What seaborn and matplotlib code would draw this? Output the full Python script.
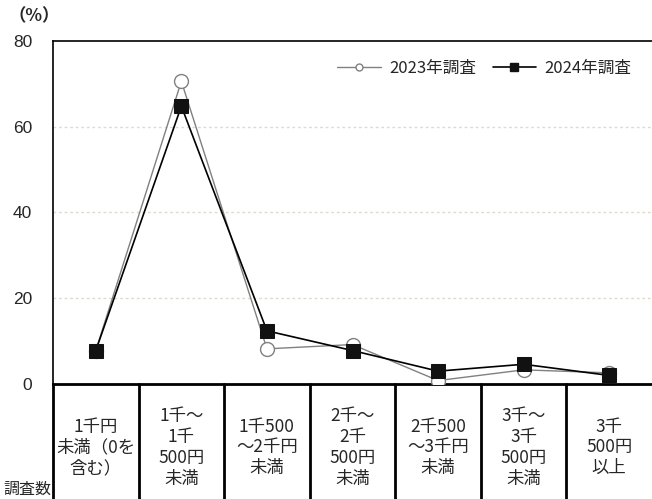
import matplotlib
matplotlib.use('Agg')
import matplotlib.pyplot as plt
import matplotlib.transforms as mtransforms
from matplotlib.lines import Line2D
import pandas as pd
import seaborn as sns

# Data
categories = ['1千円\n未満（0を\n含む）', '1千～\n1千\n500円\n未満', '1千500\n～2千円\n未満',
              '2千～\n2千\n500円\n未満', '2千500\n～3千円\n未満', '3千～\n3千\n500円\n未満',
              '3千\n500円\n以上']
survey_2023 = [7.8, 70.6, 8.2, 9.2, 0.8, 3.3, 2.6]
survey_2024 = [7.8, 64.8, 12.4, 7.8, 3.0, 4.6, 2.0]
yticks = [0, 20, 40, 60, 80]

sns.set_style('white')
plt.rcParams['font.family'] = ['Noto Sans CJK JP', 'DejaVu Sans']

x = list(range(len(categories)))
df23 = pd.DataFrame({'x': x, 'v': survey_2023})
df24 = pd.DataFrame({'x': x, 'v': survey_2024})

fig = plt.figure(figsize=(6.52, 4.99), dpi=100)
ax = fig.add_axes([53 / 652, (499 - 384) / 499, (652 - 53) / 652, (384 - 41) / 499])

sns.lineplot(data=df23, x='x', y='v', ax=ax, color='#808080', linewidth=1.0,
             marker='o', markersize=10, markerfacecolor='white',
             markeredgecolor='#808080', markeredgewidth=1.0, zorder=3)
sns.lineplot(data=df24, x='x', y='v', ax=ax, color='black', linewidth=1.2,
             marker='s', markersize=10, markerfacecolor='#111111',
             markeredgecolor='#111111', zorder=4)

ax.set_xlim(-0.5, len(categories) - 0.5)
ax.set_ylim(0, 80)
ax.set_yticks(yticks)
ax.set_yticklabels([str(v) for v in yticks], fontsize=12.5, family=['Liberation Sans'])
ax.tick_params(axis='y', length=0, pad=15)
ax.set_xticks([i - 0.5 for i in range(1, len(categories))])
ax.set_xticklabels([])
ax.tick_params(axis='x', direction='in', length=4, width=0.8, color='#888888')
ax.set_xlabel('')
ax.set_ylabel('')

for y in yticks[1:-1]:
    ax.axhline(y, color='#dcdccc', linestyle=(0, (2, 2)), linewidth=1.0, zorder=1)

ax.spines['right'].set_visible(False)
ax.spines['left'].set_linewidth(1.2)
ax.spines['top'].set_linewidth(1.2)
ax.spines['bottom'].set_linewidth(2.0)
for s in ax.spines.values():
    s.set_color('black')

# Table below the axis
trans = mtransforms.blended_transform_factory(ax.transData, ax.transAxes)
for i in range(len(categories)):
    ax.plot([i - 0.5, i - 0.5], [0, -0.4], transform=trans, color='black',
            linewidth=2.0, clip_on=False)
for i, lab in enumerate(categories):
    ax.text(i, -0.185, lab, transform=trans, ha='center', va='center',
            fontsize=12.5, linespacing=1.2, clip_on=False)

fig.text(51 / 652, 1 - 489 / 499, '調査数', ha='right', va='center', fontsize=11.5)
fig.text(8 / 652, 1 - 16 / 499, '（%）', ha='left', va='center', fontsize=12.5,
         fontweight='bold')

handles = [
    Line2D([], [], color='#808080', linewidth=1.0, marker='o', markersize=5,
           markerfacecolor='white', markeredgecolor='#808080'),
    Line2D([], [], color='black', linewidth=1.2, marker='s', markersize=6,
           markerfacecolor='#111111', markeredgecolor='#111111'),
]
ax.legend(handles, ['2023年調査', '2024年調査'], loc='upper right', ncol=2,
          frameon=False, fontsize=12, handlelength=2.6, handletextpad=0.5,
          columnspacing=1.0, bbox_to_anchor=(0.985, 0.98), borderaxespad=0.3)

fig.savefig('out.png', dpi=100)
